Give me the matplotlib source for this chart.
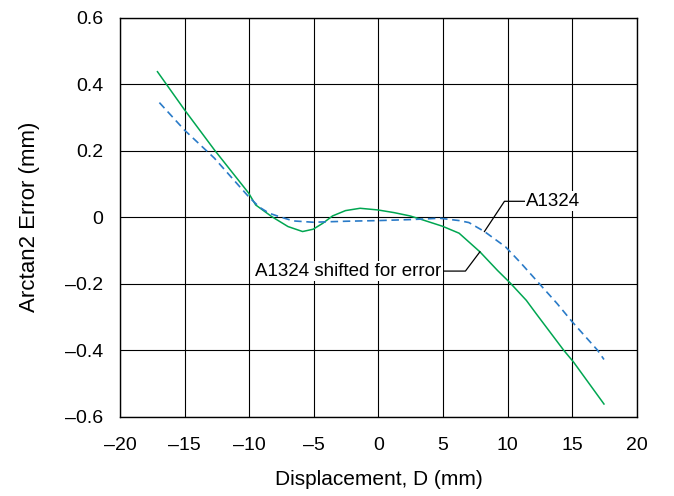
import matplotlib.pyplot as plt
from matplotlib.ticker import FixedLocator, FuncFormatter

plt.rcParams['font.family'] = ['Liberation Sans', 'DejaVu Sans']

# --- DATA ---
shifted_x = [-17.1, -15.0, -12.7, -10.05, -9.5, -8.26, -7.0, -5.87, -5.05, -4.3, -3.55,
             -2.55, -1.42, -0.05, 1.2, 2.44, 3.27, 4.95, 6.24, 7.85, 9.21, 10.2,
             11.44, 12.2, 14.33, 15.08, 17.45]
shifted_y = [0.438, 0.323, 0.203, 0.073, 0.037, 0.002, -0.028, -0.043, -0.036, -0.018, 0.004,
             0.020, 0.027, 0.022, 0.014, 0.004, -0.006, -0.027, -0.048, -0.104, -0.16, -0.198,
             -0.25, -0.29, -0.40, -0.435, -0.562]

a1324_x = [-16.95, -15.0, -12.7, -10.05, -9.2, -8.45, -7.6, -6.6, -5.05, -2.5, 0.0,
           2.5, 4.75, 6.24, 7.0, 8.2, 9.83, 11.0, 12.45, 13.83, 15.0, 16.95, 17.45]
a1324_y = [0.345, 0.262, 0.178, 0.062, 0.030, 0.012, 0.001, -0.011, -0.015, -0.012, -0.010,
           -0.007, -0.003, -0.010, -0.016, -0.043, -0.089, -0.137, -0.20, -0.26, -0.315,
           -0.40, -0.428]

x_ticks = [-20, -15, -10, -5, 0, 5, 10, 15, 20]
y_ticks = [-0.6, -0.4, -0.2, 0, 0.2, 0.4, 0.6]

GREEN = '#00a651'
BLUE = '#2a7bc8'
FS = 13.5


def dash_fmt(v, pos):
    if abs(v) < 1e-9:
        return '0'
    s = ('%g' % abs(v))
    return ('\u2013' + s) if v < 0 else s


fig = plt.figure(figsize=(6.74, 4.96), dpi=100)
ax = fig.add_axes([0.178, 0.160, 0.767, 0.804])

ax.plot(shifted_x, shifted_y, color=GREEN, lw=1.1, zorder=3)
ax.plot(a1324_x, a1324_y, color=BLUE, lw=1.2, dashes=(4.5, 2.8), zorder=3)

ax.set_xlim(-20, 20)
ax.set_ylim(-0.6, 0.6)
ax.xaxis.set_major_locator(FixedLocator(x_ticks))
ax.yaxis.set_major_locator(FixedLocator(y_ticks))
ax.xaxis.set_major_formatter(FuncFormatter(dash_fmt))
ax.yaxis.set_major_formatter(FuncFormatter(dash_fmt))
ax.tick_params(length=0, labelsize=14)
ax.tick_params(axis='x', pad=15)
ax.tick_params(axis='y', pad=12)
ax.grid(True, color='black', lw=0.8, zorder=1)
for sp in ax.spines.values():
    sp.set_linewidth(1.0)

ax.set_xlabel('Displacement, D (mm)', fontsize=15, labelpad=11)
ax.set_ylabel('Arctan2 Error (mm)', fontsize=16, labelpad=18)

# leader-line annotations
ax.plot([8.2, 9.75, 11.3], [-0.043, 0.048, 0.048], color='black', lw=0.9, zorder=4)
ax.text(11.45, 0.048, 'A1324', fontsize=FS, ha='left', va='center', zorder=5,
        bbox=dict(facecolor='white', edgecolor='none', pad=1))

ax.plot([7.85, 6.73, 5.12], [-0.104, -0.162, -0.162], color='black', lw=0.9, zorder=4)
ax.text(4.88, -0.162, 'A1324 shifted for error', fontsize=FS, ha='right', va='center',
        zorder=5, bbox=dict(facecolor='white', edgecolor='none', pad=1))

fig.savefig('out.png', dpi=100)
